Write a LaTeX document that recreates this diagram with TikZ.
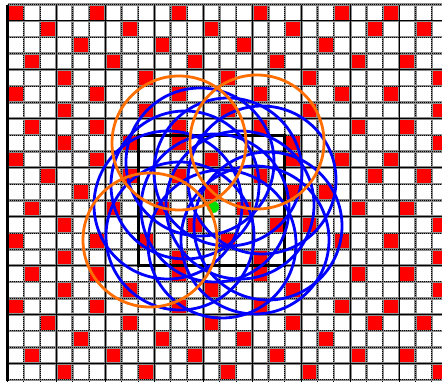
\documentclass[tikz,border=0pt]{standalone}
\usepackage{tikz}
\definecolor{obstacle}{HTML}{FF0000}
\definecolor{agentblue}{HTML}{0000FF}
\definecolor{peerorange}{HTML}{FF6E00}
\definecolor{goalgreen}{HTML}{00DD00}
\definecolor{gridgray}{HTML}{8C8C8C}
\def\cw{16.32}

\begin{document}
\begin{tikzpicture}[x=1pt,y=-1pt,
  minorline/.style={gridgray,line width=2.6pt},
  minordots/.style={black,line width=.9pt,dash pattern=on .9pt off 1.1pt},
  majorline/.style={black,line width=1.2pt},
  sensor/.style={agentblue,line width=2.8pt},
  peerrange/.style={peerorange,line width=2.8pt}]
\useasboundingbox (0,0) rectangle (442,381);
\fill[white] (0,0) rectangle (442,381);
\begin{scope}
\clip (0,0) rectangle (442,381);
% obstacle cells, row / columns
\foreach \r/\cl in {0/{0,5,10,15,20,23},1/{2,7,12,17,22,25},2/{4,9,14,19},
  3/{1,6,11,16,21,24},4/{3,8,13,18,26},5/{0,5,10,15,20,23},6/{3,8,13,18,26},
  7/{1,5,10,15,21,24},8/{3,7,10,17,26},9/{0,5,12,17,20,23},10/{2,7,10,15,22,25},
  11/{4,12,17,19},12/{1,6,9,14,21,24},13/{3,11,16,18,26},14/{0,5,8,13,20,23},
  15/{3,10,15,18,26},16/{1,5,10,15,21,24},17/{3,7,12,17,26},18/{0,5,10,15,20,23},
  19/{2,7,12,17,22,25},20/{4,9,14,19},21/{1,6,11,16,21,24},22/{3,8,13,18,26}}
  \foreach \c in \cl
    \fill[obstacle] ({7.5+\cw*\c},{4.5+\cw*\r}) rectangle +(\cw,\cw);
% grid
\foreach \i in {0,...,27}{
  \draw[minorline] ({7.5+\cw*\i},4.5) -- ({7.5+\cw*\i},381);
  \draw[minordots] ({7.5+\cw*\i},4.5) -- ({7.5+\cw*\i},381);}
\foreach \j in {0,...,23}{
  \draw[minorline] (7.5,{4.5+\cw*\j}) -- (442,{4.5+\cw*\j});
  \draw[minordots] (7.5,{4.5+\cw*\j}) -- (442,{4.5+\cw*\j});}
\foreach \i in {0,3,...,27}
  \draw[majorline] ({7.5+\cw*\i},4.5) -- ({7.5+\cw*\i},381);
\foreach \j in {1,4,...,22}
  \draw[majorline] (7.5,{4.5+\cw*\j}) -- (442,{4.5+\cw*\j});
\draw[black,line width=2.4pt] (7.5,4.5) -- (7.5,381);
\end{scope}
% region and goal
\draw[black,line width=3pt] ({7.5+8*\cw},{4.5+8*\cw}) rectangle ({7.5+17*\cw},{4.5+16*\cw});
\fill[goalgreen] (213,207) circle (6);
% blue ranges
\foreach \x/\y in {200/162,262/180,168/205,268/226,222/244,180/236,255/240,228/172,185/185,215/208,240/205}
  \draw[sensor] (\x,\y) circle (74);
% orange ranges
\foreach \x/\y in {179/143,257/142,150/240}
  \draw[peerrange] (\x,\y) circle (67);
\end{tikzpicture}
\end{document}
